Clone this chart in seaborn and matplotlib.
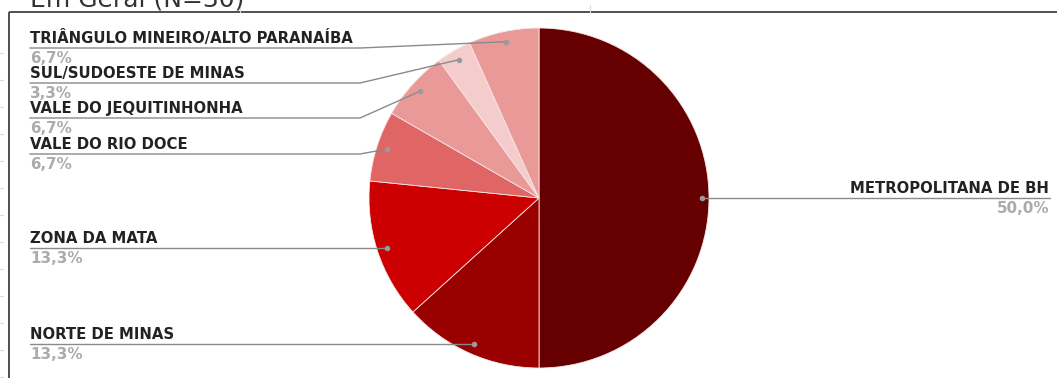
import matplotlib
matplotlib.use("Agg")
import matplotlib.pyplot as plt
import seaborn as sns
import numpy as np

# Distribution by region (share of respondents, %)
regions = [
    "METROPOLITANA DE BH",
    "NORTE DE MINAS",
    "ZONA DA MATA",
    "VALE DO RIO DOCE",
    "VALE DO JEQUITINHONHA",
    "SUL/SUDOESTE DE MINAS",
    "TRIÂNGULO MINEIRO/ALTO PARANAÍBA",
]
shares = [50.0, 13.3, 13.3, 6.7, 6.7, 3.3, 6.7]
slice_colors = ["#660000", "#990000", "#cc0000", "#e06666", "#ea9999", "#f4cccc", "#ea9999"]
title_text = "Em Geral (N=30)"

sns.set_theme(style="white")
plt.rcParams["font.family"] = ["DejaVu Sans"]

W, H = 1057, 378
fig = plt.figure(figsize=(W / 100, H / 100), dpi=100)
fig.patch.set_facecolor("white")

# Full-figure overlay in pixel units (y downward) for frame, leader lines and labels
ov = fig.add_axes([0, 0, 1, 1], zorder=3)
ov.set_xlim(0, W)
ov.set_ylim(H, 0)
ov.axis("off")
ov.patch.set_alpha(0)

# Pie axes: centre and radius in pixels
cx, cy, R = 539, 198, 170
pie_ax = fig.add_axes([(cx - R) / W, (H - cy - R) / H, 2 * R / W, 2 * R / H], zorder=2)
palette = sns.color_palette(slice_colors)
wedges, _ = pie_ax.pie(
    shares, colors=palette, startangle=90, counterclock=False, radius=1,
    wedgeprops=dict(edgecolor="#f6e6e6", linewidth=0.6),
)
pie_ax.set_xlim(-1, 1)
pie_ax.set_ylim(-1, 1)
pie_ax.set_aspect("equal")
pie_ax.axis("off")

# Frame and heading (runs off the top edge)
ov.plot([9, W], [12, 12], color="#505050", lw=1.4, solid_capstyle="butt")
ov.plot([9, 9], [12, H], color="#505050", lw=1.4, solid_capstyle="butt")
ov.text(30, 6, title_text, fontsize=18, color="#333333", va="baseline", ha="left", clip_on=True)
for yy in range(53, H, 27):
    ov.plot([0, 3], [yy, yy], color="#d8d8d8", lw=0.8)
ov.plot([240, 240], [5, 12], color="#dddddd", lw=0.8)
ov.plot([590, 590], [5, 12], color="#dddddd", lw=0.8)

to_ov = ov.transData.inverted()


def anchor(w, frac=0.94):
    th = np.deg2rad((w.theta1 + w.theta2) / 2)
    disp = pie_ax.transData.transform((frac * np.cos(th), frac * np.sin(th)))
    return to_ov.transform(disp)


def pct(v):
    return f"{v:.1f}".replace(".", ",") + "%"


name_kw = dict(fontsize=10.7, fontweight="bold", color="#222222", va="baseline")
pct_kw = dict(fontsize=10.9, fontweight="bold", color="#ababab", va="baseline")
line_kw = dict(color="#8a8a8a", lw=1.0)

# Left-side label rows (line heights in px); the last two follow their anchor
left_rows = {6: 48, 5: 83, 4: 118, 3: 154, 2: None, 1: None}
elbow_x = 360
for i, row_y in left_rows.items():
    ax_, ay_ = anchor(wedges[i])
    if row_y is None:
        row_y = ay_
        xs, ys = [30, ax_], [row_y, ay_]
    else:
        xs, ys = [30, elbow_x, ax_], [row_y, row_y, ay_]
    ov.plot(xs, ys, **line_kw)
    ov.plot(ax_, ay_, "o", ms=4, color="#9a9a9a", mec="none")
    ov.text(30, row_y - 5, regions[i], ha="left", **name_kw)
    ov.text(30, row_y + 15, pct(shares[i]), ha="left", **pct_kw)

# Right-side label for the largest slice
ax_, ay_ = anchor(wedges[0], 0.96)
ov.plot([ax_, 1050], [ay_, ay_], **line_kw)
ov.plot(ax_, ay_, "o", ms=4, color="#9a9a9a", mec="none")
ov.text(1049, ay_ - 5, regions[0], ha="right", **name_kw)
ov.text(1049, ay_ + 15, pct(shares[0]), ha="right", **pct_kw)

fig.savefig("out.png", dpi=100, facecolor="white")
